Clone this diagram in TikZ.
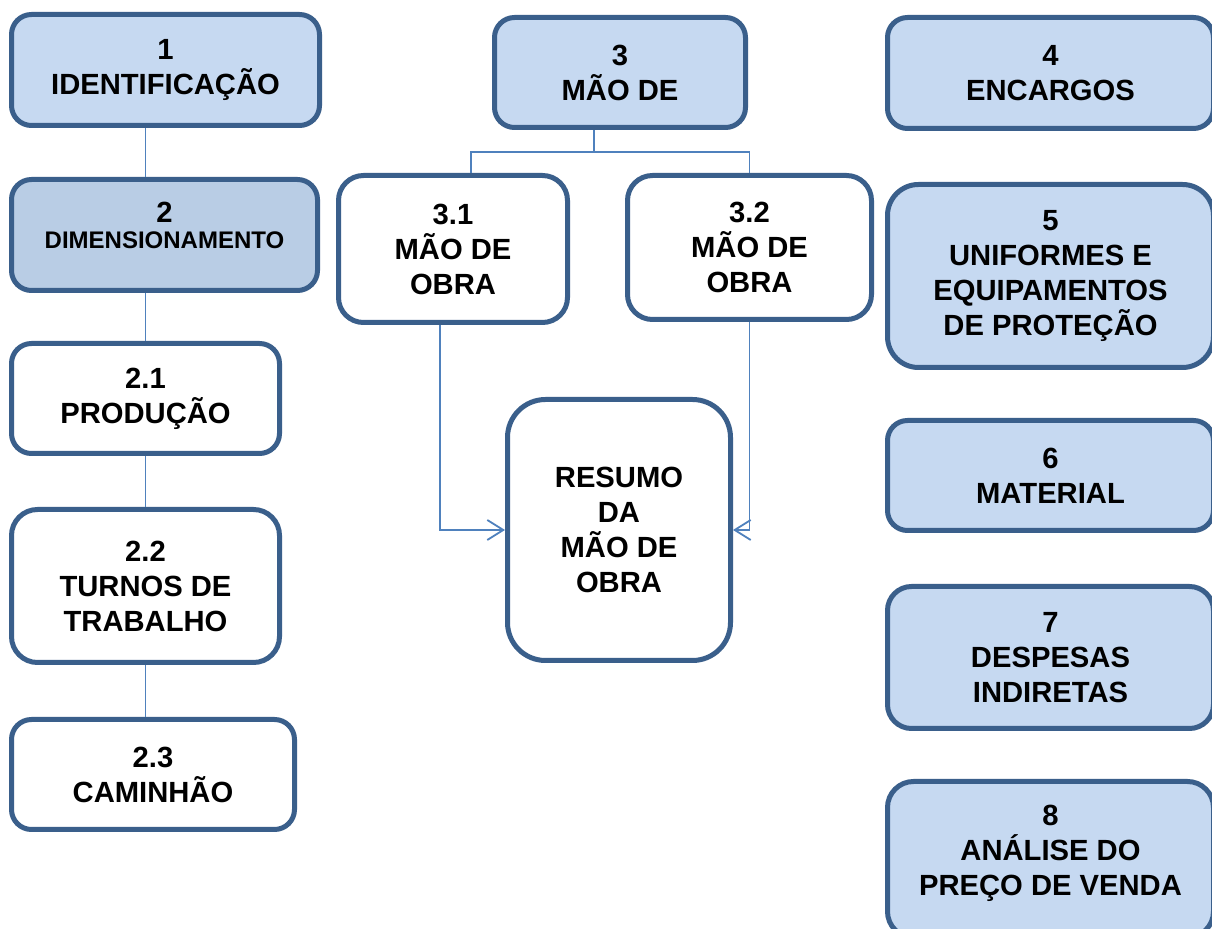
\documentclass[tikz,border=0pt]{standalone}
\usepackage{fontspec}
\setmainfont{Liberation Sans}
\usepackage{pgf,tikz}
\usetikzlibrary{arrows.meta}
\definecolor{borda}{HTML}{3A5F8B}
\definecolor{azulclaro}{HTML}{C6D9F1}
\definecolor{azulmedio}{HTML}{B9CDE5}
\definecolor{linha}{HTML}{4F81BD}
\tikzstyle{caixa} = [draw=borda, fill=white, line width=2.5pt, rectangle, rounded corners=10pt, align=center, anchor=north west, inner sep=2pt, font=\fontsize{14.6}{17.5}\selectfont\bfseries]
\tikzstyle{caixaazul} = [caixa, fill=azulclaro]
\tikzstyle{ligacao} = [draw=linha, line width=0.9pt]
\tikzstyle{seta} = [ligacao, -{Straight Barb[length=8pt,width=10pt]}]

\begin{document}
\begin{tikzpicture}[x=0.5pt, y=-0.5pt]
		\clip (0,0) rectangle (1212,929);
		\fill[white] (0,0) rectangle (1212,929);
		\node[caixaazul, minimum width=154pt, minimum height=55.5pt](ident) at (9,12) {1\\IDENTIFICAÇÃO};
		\node[caixa, fill=azulmedio, minimum width=153pt, minimum height=55.5pt](dim) at (9,177) {2\\[-4.5pt]\fontsize{12}{13}\selectfont DIMENSIONAMENTO\\[-8pt]\mbox{}};
		\node[caixa, minimum width=134pt, minimum height=55pt](prod) at (9,341) {2.1\\PRODUÇÃO};
		\node[caixa, rounded corners=13pt, minimum width=134pt, minimum height=76.5pt](turnos) at (9,507) {2.2\\TURNOS DE\\TRABALHO};
		\node[caixa, minimum width=141.5pt, minimum height=55pt](caminhao) at (9,717) {2.3\\CAMINHÃO};
		\node[caixaazul, minimum width=125.5pt, minimum height=55pt](mao) at (492,15) {3\\MÃO DE};
		\node[caixa, rounded corners=12.5pt, minimum width=114.5pt, minimum height=73.5pt](mo1) at (336,173) {3.1\\MÃO DE\\OBRA};
		\node[caixa, rounded corners=12.5pt, minimum width=122pt, minimum height=72pt](mo2) at (625,173) {3.2\\MÃO DE\\OBRA};
		\node[caixa, rounded corners=19pt, minimum width=111.5pt, minimum height=130.5pt](resumo) at (505,397) {RESUMO\\DA\\MÃO DE\\OBRA};
		\node[caixaazul, minimum width=163pt, minimum height=55.5pt](encargos) at (885,15) {4\\ENCARGOS};
		\node[caixaazul, rounded corners=15.5pt, minimum width=163pt, minimum height=91.5pt](uniformes) at (885,182) {5\\UNIFORMES E\\EQUIPAMENTOS\\DE PROTEÇÃO};
		\node[caixaazul, minimum width=163pt, minimum height=55pt](material) at (885,418) {6\\MATERIAL};
		\node[caixaazul, rounded corners=12pt, minimum width=163pt, minimum height=71pt](despesas) at (885,584) {7\\DESPESAS\\INDIRETAS};
		\node[caixaazul, rounded corners=13pt, minimum width=163pt, minimum height=78pt](analise) at (885,779) {8\\ANÁLISE DO\\PREÇO DE VENDA\\[-8pt]\mbox{}};
		\draw[ligacao] (ident.south -| prod.north) -- (dim.north -| prod.north);
		\draw[ligacao] (dim.south -| prod.north) -- (prod.north);
		\draw[ligacao] (prod) -- (turnos);
		\draw[ligacao] (turnos.south) -- (caminhao.north -| turnos.south);
		\coordinate (bif) at (594,152);
		\draw[ligacao] ([xshift=-13pt]mao.south) -- (bif);
		\draw[ligacao] ([xshift=9pt]mo1.north) |- (bif) -| (mo2.north);
		\draw[seta] ([xshift=-6.5pt]mo1.south) |- (resumo.west);
		\draw[seta] (mo2.south) |- (resumo.east);
	\end{tikzpicture}
\end{document}
